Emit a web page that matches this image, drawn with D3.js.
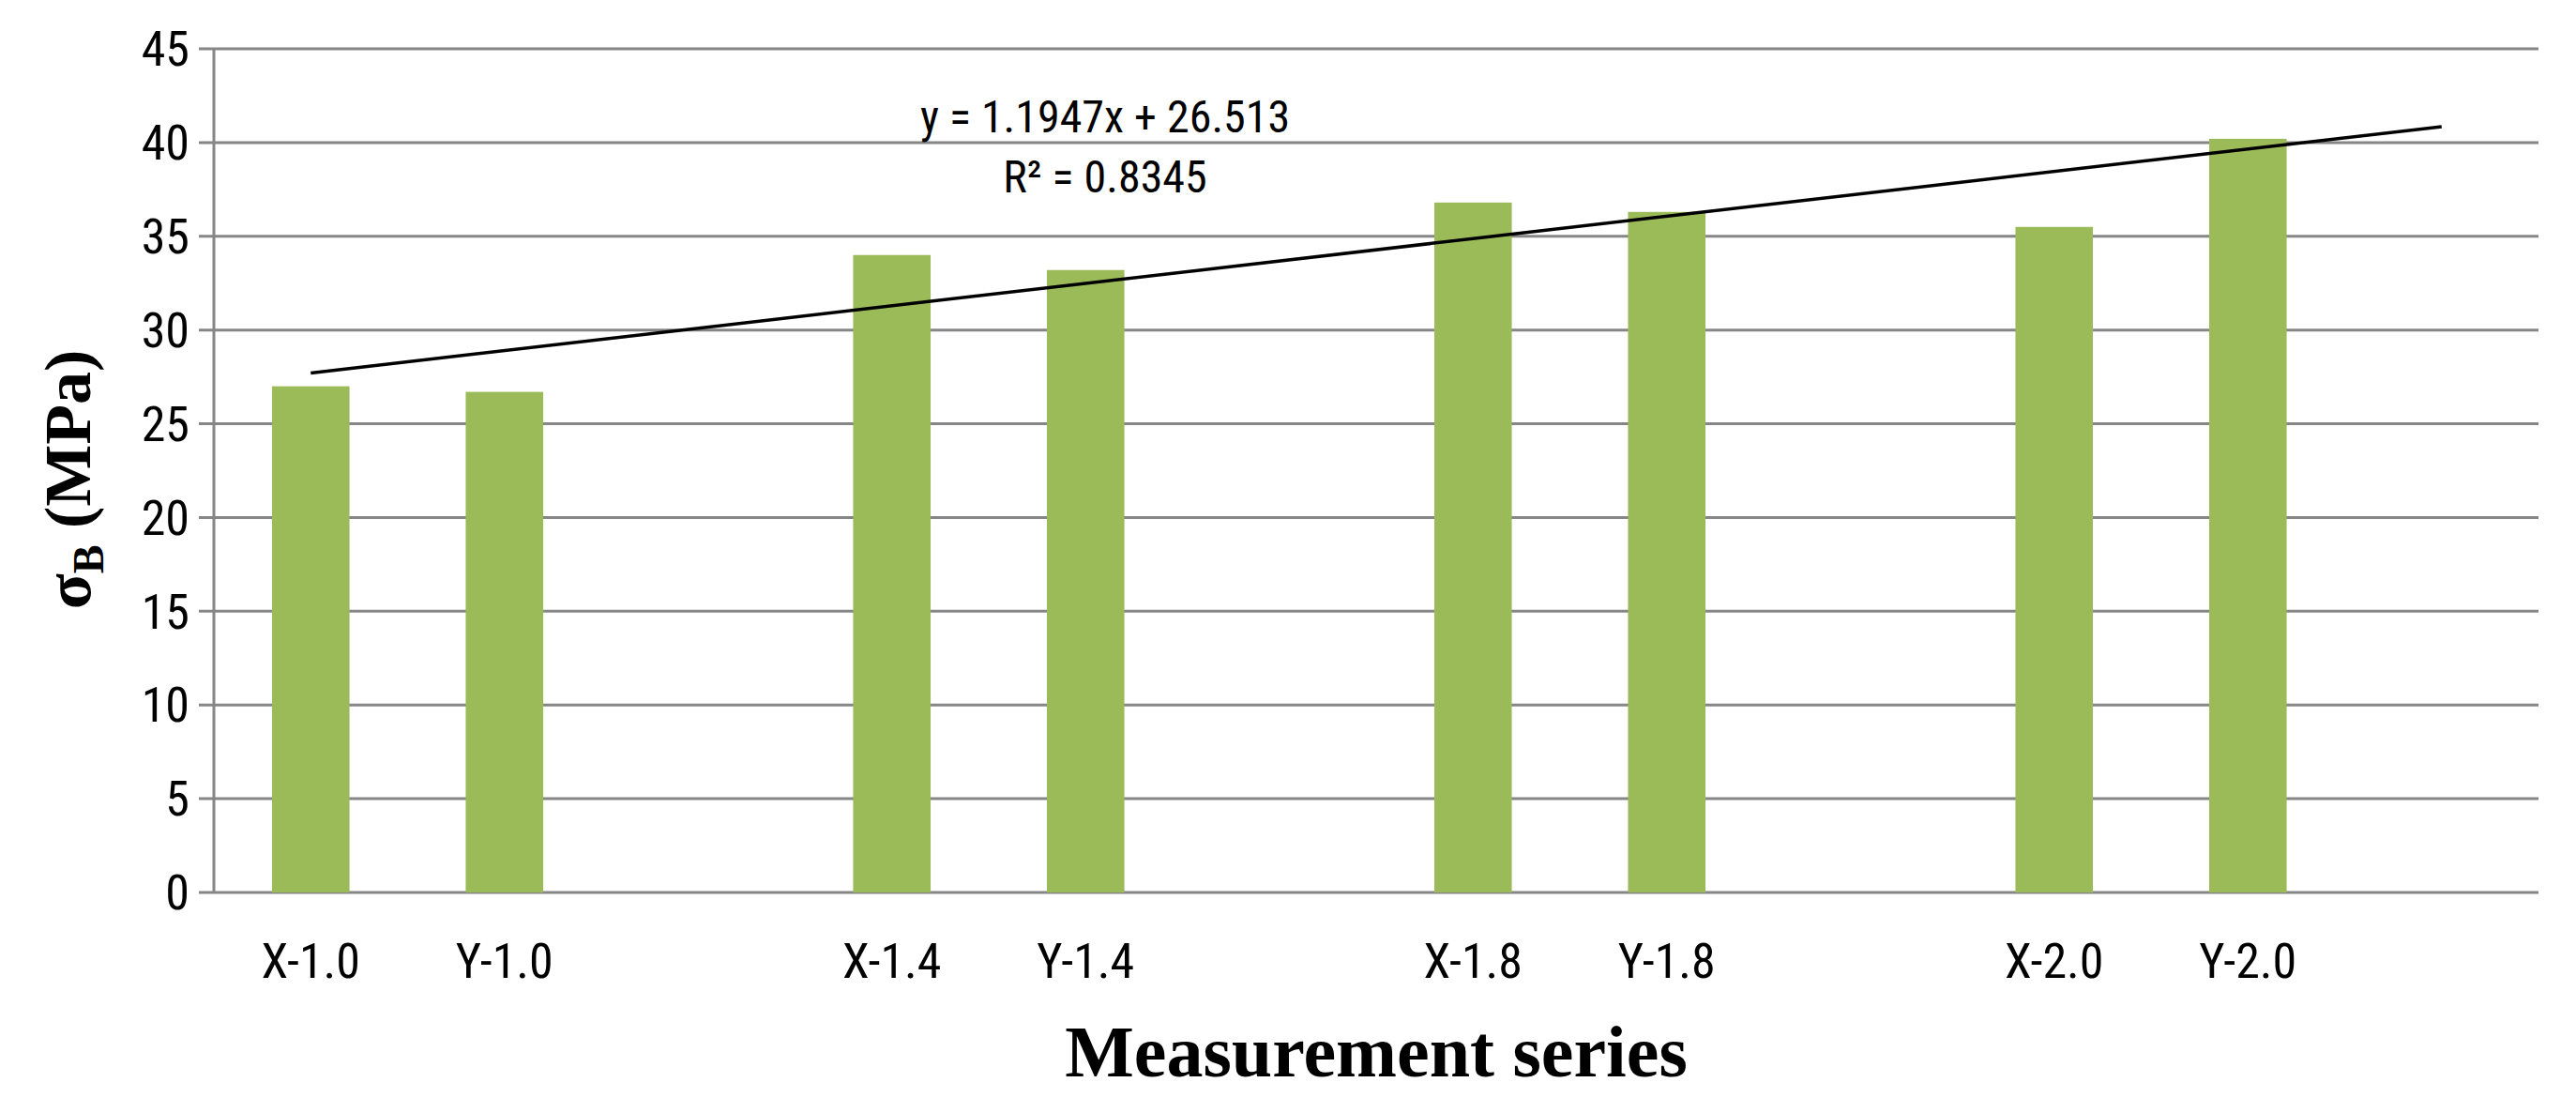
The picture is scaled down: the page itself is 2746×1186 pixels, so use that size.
<!DOCTYPE html>
<html><head><meta charset="utf-8">
<script src="https://cdn.jsdelivr.net/npm/d3@7"></script>
<style>body{margin:0;background:#fff}</style></head>
<body><svg id="c" width="2746" height="1186"></svg>
<script>
const categories = ["X-1.0","Y-1.0","","X-1.4","Y-1.4","","X-1.8","Y-1.8","","X-2.0","Y-2.0",""];
const slots = ["s0","s1","s2","s3","s4","s5","s6","s7","s8","s9","s10","s11"];
const values = [27.0,26.7,null,34.0,33.2,null,36.8,36.3,null,35.5,40.2,null];
const yTicks = [0,5,10,15,20,25,30,35,40,45];
const trendSlope = 1.1947, trendIntercept = 26.513, trendR2 = 0.8345;

const svg = d3.select("#c");
const L=228, R=2706, T=52, B=951;
const x = d3.scaleBand().domain(slots).range([L,R]).paddingInner(0.6).paddingOuter(0.3);
const y = d3.scaleLinear().domain([0,45]).range([B,T]);
const lab = "'Liberation Sans Narrow','Roboto Condensed','Liberation Sans',sans-serif";

// gridlines
svg.append("g").selectAll("line").data(yTicks).join("line")
  .attr("x1",L-16).attr("x2",R).attr("y1",d=>y(d)).attr("y2",d=>y(d))
  .attr("stroke","#868686").attr("stroke-width",3);
svg.append("line").attr("x1",L).attr("x2",L).attr("y1",T).attr("y2",B).attr("stroke","#868686").attr("stroke-width",3);

// y tick labels
svg.append("g").selectAll("text").data(yTicks).join("text")
  .attr("x",202).attr("y",d=>y(d)).attr("dy","0.35em").attr("text-anchor","end")
  .attr("font-family",lab).attr("font-size",52).attr("fill","#000").text(d=>d);

// bars
const data = slots.map((s,i)=>({s,v:values[i],c:categories[i]}));
svg.append("g").selectAll("rect").data(data.filter(d=>d.v!=null)).join("rect")
  .attr("x",d=>x(d.s)).attr("width",x.bandwidth()).attr("y",d=>y(d.v)).attr("height",d=>B-y(d.v))
  .attr("fill","#9BBB59");

// x labels
svg.append("g").selectAll("text").data(data).join("text")
  .attr("x",d=>x(d.s)+x.bandwidth()/2).attr("y",1042).attr("text-anchor","middle")
  .attr("font-family",lab).attr("font-size",52).attr("fill","#000").text(d=>d.c);

// trendline
const cx = i=>x(slots[i])+x.bandwidth()/2;
const tl = [0, slots.length-1];
svg.append("line").attr("x1",cx(tl[0])).attr("y1",y(trendSlope*(tl[0]+1)+trendIntercept))
  .attr("x2",cx(tl[1])).attr("y2",y(trendSlope*(tl[1]+1)+trendIntercept))
  .attr("stroke","#000").attr("stroke-width",3.5);

svg.append("text").attr("x",1178).attr("y",141).attr("text-anchor","middle")
  .attr("font-family",lab).attr("font-size",48).text(`y = ${trendSlope}x + ${trendIntercept}`);
svg.append("text").attr("x",1178).attr("y",205).attr("text-anchor","middle")
  .attr("font-family",lab).attr("font-size",48).text(`R² = ${trendR2}`);

// axis titles
svg.append("text").attr("x",1467).attr("y",1147).attr("text-anchor","middle")
  .attr("font-family","'Liberation Serif','Times New Roman',serif").attr("font-weight","bold")
  .attr("font-size",78).text("Measurement series");
const yt = svg.append("text").attr("transform","translate(96,511) rotate(-90)").attr("text-anchor","middle")
  .attr("font-family","'Liberation Serif','Times New Roman',serif").attr("font-weight","bold").attr("font-size",70);
yt.append("tspan").text("σ");
yt.append("tspan").attr("font-size",46).attr("dy",14).text("B");
yt.append("tspan").attr("dy",-14).text("\u00a0(MPa)");
</script></body></html>
